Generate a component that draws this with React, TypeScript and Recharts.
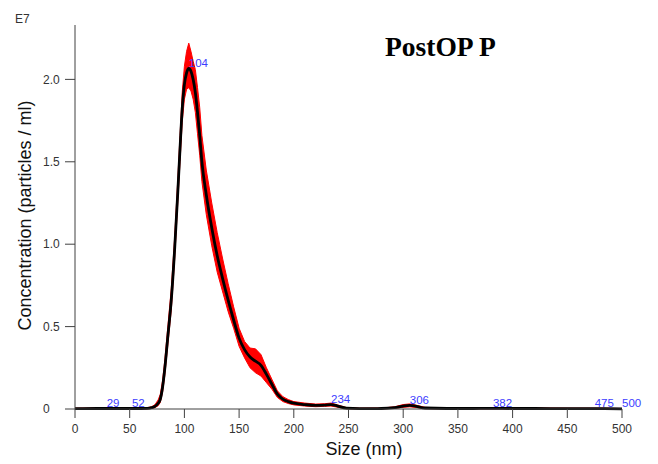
import React from 'react';
import { ComposedChart, XAxis, YAxis, Area, Line, Scatter } from 'recharts';

// particle size (nm) and concentration (E7 particles / ml)
const sizes = [
  0, 20, 40, 50, 60, 66, 70, 73, 76, 78,
  80, 82, 85, 88, 91, 94, 96, 98, 100, 102,
  104, 106, 108, 110, 112, 114, 116, 120, 125, 130,
  135, 140, 145, 150, 155, 160, 165, 170, 175, 180,
  185, 190, 195, 200, 210, 220, 228, 234, 240, 248,
  260, 280, 292, 300, 306, 312, 320, 340, 360, 382,
  400, 420, 450, 475, 500,
];

const meanConc = [
  0.002, 0.003, 0.003, 0.003, 0.003, 0.004, 0.008, 0.016, 0.035, 0.06,
  0.13, 0.24, 0.45, 0.66, 0.96, 1.32, 1.58, 1.82, 1.97, 2.04,
  2.067, 2.05, 2.0, 1.92, 1.8, 1.66, 1.5, 1.3, 1.1, 0.93,
  0.79, 0.66, 0.54, 0.43, 0.36, 0.315, 0.29, 0.265, 0.21, 0.15,
  0.09, 0.06, 0.045, 0.035, 0.027, 0.022, 0.024, 0.027, 0.018, 0.005,
  0.002, 0.003, 0.008, 0.018, 0.022, 0.016, 0.006, 0.003, 0.003, 0.004,
  0.003, 0.003, 0.002, 0.002, 0.001,
];

// standard error envelope
const lowConc = [
  0, 0.001, 0.001, 0.001, 0.001, 0.001, 0.003, 0.008, 0.02, 0.04,
  0.1, 0.2, 0.4, 0.6, 0.9, 1.26, 1.5, 1.74, 1.88, 1.94,
  1.95, 1.93, 1.88, 1.8, 1.67, 1.54, 1.38, 1.18, 0.99, 0.83,
  0.71, 0.59, 0.49, 0.38, 0.31, 0.25, 0.22, 0.2, 0.16, 0.12,
  0.07, 0.045, 0.033, 0.025, 0.018, 0.014, 0.016, 0.018, 0.011, 0.002,
  0, 0.001, 0.004, 0.01, 0.013, 0.009, 0.002, 0.001, 0.001, 0.001,
  0.001, 0.001, 0, 0, 0,
];

const highConc = [
  0.005, 0.006, 0.006, 0.006, 0.006, 0.008, 0.014, 0.026, 0.055, 0.09,
  0.17, 0.29, 0.51, 0.73, 1.03, 1.4, 1.66, 1.92, 2.08, 2.17,
  2.22, 2.17, 2.11, 2.06, 1.95, 1.83, 1.66, 1.45, 1.25, 1.07,
  0.91, 0.76, 0.62, 0.49, 0.41, 0.37, 0.365, 0.33, 0.25, 0.18,
  0.11, 0.075, 0.057, 0.045, 0.036, 0.03, 0.032, 0.036, 0.025, 0.009,
  0.005, 0.006, 0.013, 0.027, 0.031, 0.023, 0.01, 0.006, 0.006, 0.007,
  0.006, 0.006, 0.005, 0.005, 0.003,
];

// labelled peaks
const peakSizes = [29, 52, 104, 234, 306, 382, 475, 500];
const peakConc = [0.003, 0.003, 2.067, 0.027, 0.022, 0.004, 0.002, 0.001];

const xTicks = [0, 50, 100, 150, 200, 250, 300, 350, 400, 450, 500];
const yTicks = [0, 0.5, 1.0, 1.5, 2.0];

const data = sizes.map((size, i) => ({
  size,
  conc: meanConc[i],
  band: [lowConc[i], highConc[i]],
}));

const peaks = peakSizes.map((size, i) => ({ size, conc: peakConc[i] }));

const FONT = '"Liberation Sans", Arial, sans-serif';
const AXIS = '#404040';
const TEXT = '#333';

const YTick = (props: any) => {
  const { y, payload } = props;
  return (
    <text x={43} y={y} dy="0.35em" textAnchor="start" fontFamily={FONT} fontSize={12} fill={TEXT}>
      {payload.value === 0 ? '0' : payload.value.toFixed(1)}
    </text>
  );
};

const XTick = (props: any) => {
  const { x, payload } = props;
  return (
    <text x={x} y={433} textAnchor="middle" fontFamily={FONT} fontSize={12} fill={TEXT}>
      {payload.value}
    </text>
  );
};

const PeakLabel = (props: any) => {
  const { cx, cy, payload } = props;
  return (
    <text x={cx} y={cy - 1.5} textAnchor="start" fontFamily={FONT} fontSize={11.5} fill="#3c3cff">
      {payload.size}
    </text>
  );
};

export default function App() {
  return (
    <div style={{ position: 'fixed', left: 0, top: 0, width: 658, height: 464, background: '#fff' }}>
      <ComposedChart width={658} height={464} data={data} margin={{ top: 25, right: 36, left: 0, bottom: 0 }}>
        <XAxis
          type="number"
          dataKey="size"
          domain={[0, 500]}
          ticks={xTicks}
          height={55}
          tickSize={9}
          stroke={AXIS}
          tick={<XTick />}
        />
        <YAxis
          type="number"
          domain={[0, 2.33]}
          ticks={yTicks}
          width={75}
          tickSize={10}
          stroke={AXIS}
          tick={<YTick />}
        />
        <Area
          type="linear"
          dataKey="band"
          stroke="#ff0000"
          strokeWidth={1}
          fill="#ff0000"
          fillOpacity={1}
          isAnimationActive={false}
        />
        <Line
          type="monotone"
          dataKey="conc"
          stroke="#000"
          strokeWidth={2.8}
          dot={false}
          isAnimationActive={false}
        />
        <Scatter data={peaks} dataKey="conc" shape={<PeakLabel />} isAnimationActive={false} />
      </ComposedChart>
      <svg width={658} height={464} style={{ position: 'absolute', left: 0, top: 0, pointerEvents: 'none' }}>
        <text x={15} y={22.5} fontFamily={FONT} fontSize={12} fill={TEXT}>E7</text>
        <text
          x={385}
          y={56}
          fontFamily='"Liberation Serif", "Times New Roman", serif'
          fontWeight="bold"
          fontSize={27.5}
          fill="#000"
        >
          PostOP P
        </text>
        <text x={364} y={455} textAnchor="middle" fontFamily={FONT} fontSize={18} fill="#111">
          Size (nm)
        </text>
        <text
          x={31}
          y={215.5}
          textAnchor="middle"
          transform="rotate(-90 31 215.5)"
          fontFamily={FONT}
          fontSize={18}
          fill="#111"
        >
          Concentration (particles / ml)
        </text>
      </svg>
    </div>
  );
}
